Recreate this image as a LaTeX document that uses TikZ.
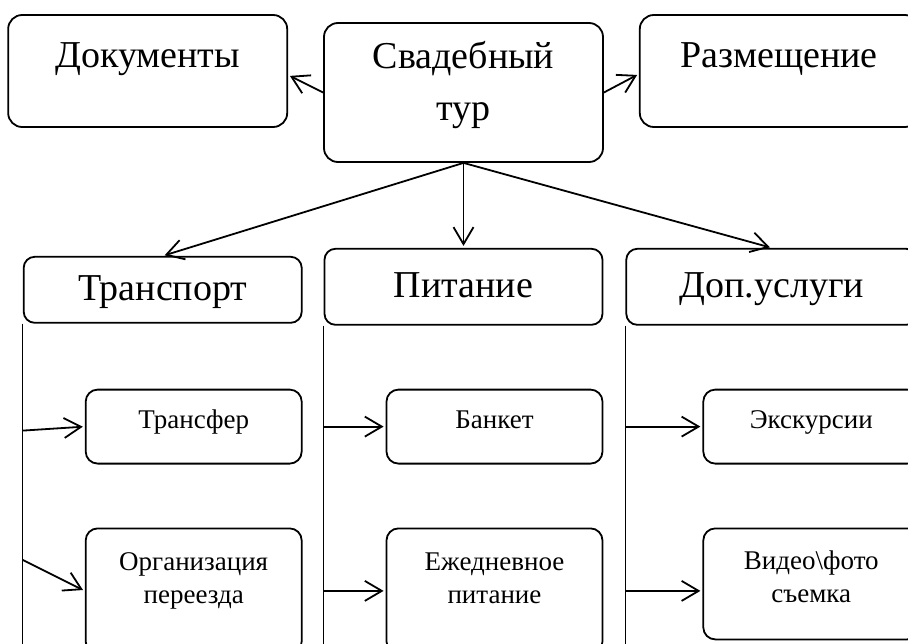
\documentclass[tikz,border=0pt]{standalone}
\usepackage{fontspec}
\setmainfont{Liberation Serif}
\usetikzlibrary{positioning,calc,arrows.meta}

\begin{document}
\begin{tikzpicture}[
						big/.style={rectangle, draw=black, line width=1.8pt, rounded corners=14pt, minimum width=279pt, inner sep=0pt, align=center, font=\fontsize{38}{46}\selectfont},
						head/.style={big, rounded corners=11pt, minimum width=278pt, text height=25pt, text depth=3pt},
						small/.style={rectangle, draw=black, line width=1.8pt, rounded corners=12pt, minimum width=216pt, inner sep=0pt, align=center, font=\fontsize{27}{33}\selectfont}
					]
					\useasboundingbox (-463.5pt,92.5pt) rectangle (444.5pt,-550.5pt);
					\clip (-463.5pt,92.5pt) rectangle (444.5pt,-550.5pt);
					\node[big, minimum height=139pt, text height=72pt, text depth=17pt] (tour) {Свадебный\\[6pt]тур};
					\node[big, minimum height=112pt, text height=25pt, text depth=33pt] (docs) [left=35pt of tour, yshift=21.5pt] {Документы};
					\node[big, minimum height=112pt, text height=25pt, text depth=33pt] (stay) [right=35pt of tour, yshift=21.5pt] {Размещение};
					\node[head, minimum height=76pt] (food) [below=85pt of tour] {Питание};
					\node[head, minimum height=66pt] (trans) [left=21pt of food, yshift=-3pt] {Транспорт};
					\node[head, minimum height=76pt, minimum width=291pt] (extra) [right=22pt of food] {Доп.услуги};
					\node[small, minimum height=74pt, text height=18pt, text depth=14pt] (banquet) [below=63pt of food.south east, anchor=north east] {Банкет};
					\node[small, minimum height=74pt, text height=18pt, text depth=14pt] (transfer) [left=83pt of banquet] {Трансфер};
					\node[small, minimum height=74pt, text height=18pt, text depth=14pt] (tours) [right=99pt of banquet] {Экскурсии};
					\node[small, minimum height=125pt, text height=52pt, text depth=27pt] (daily) [below=63pt of banquet] {Ежедневное\\питание};
					\node[small, minimum height=125pt, text height=52pt, text depth=27pt] (move) [below=63pt of transfer] {Организация\\переезда};
					\node[small, minimum height=111pt, text height=52pt, text depth=15pt] (video) [below=63pt of tours] {Видео\textbackslash{}фото\\съемка};
					\coordinate (floor) at ([yshift=-20pt]daily.south);
					\draw[line width=1.2pt] (trans.south west) -- (trans.south west |- floor);
					\draw[line width=1.8pt] (food.south west) -- (food.south west |- floor);
					\draw[line width=1.8pt] (extra.south west) -- (extra.south west |- floor);
					\begin{scope}[line width=1.8pt, -{Straight Barb[length=17pt, width=20pt]}, shorten >=2pt]
					\draw (tour.west) -- ([yshift=-4pt]docs.east);
					\draw (tour.east) -- ([yshift=-3pt]stay.west);
					\draw (tour.south) -- (trans.north);
					\draw (tour.south) -- (food.north);
					\draw (tour.south) -- (extra.north);
					\draw ($(trans.south west |- transfer.west)+(0,-4pt)$) -- (transfer.west);
					\draw ($(trans.south west |- move.west)+(0,31pt)$) -- (move.west);
					\draw (food.south west |- banquet.west) -- (banquet.west);
					\draw (food.south west |- daily.west) -- (daily.west);
					\draw (extra.south west |- tours.west) -- (tours.west);
					\draw (extra.south west |- daily.west) -- (video.west |- daily.west);
					\end{scope}
					\end{tikzpicture}
\end{document}
